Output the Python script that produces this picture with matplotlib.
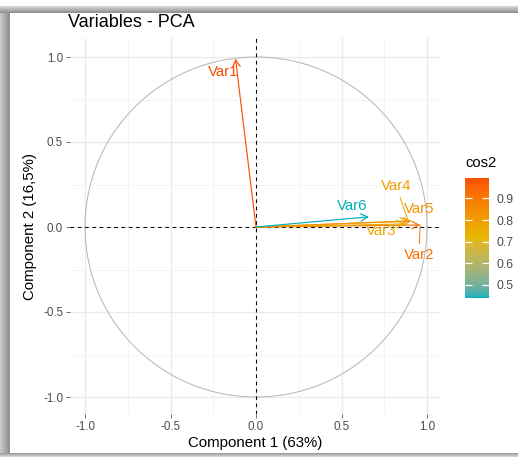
import numpy as np
import matplotlib
matplotlib.use("Agg")
import matplotlib.pyplot as plt
from matplotlib.colors import ListedColormap, Normalize, to_rgb
from matplotlib.cm import ScalarMappable

plt.rcParams["font.family"] = ["Liberation Sans", "DejaVu Sans"]

# PCA variable coordinates (loadings on the first two components)
variables = ["Var1", "Var2", "Var3", "Var4", "Var5", "Var6"]
dim1 = [-0.12, 0.96, 0.87, 0.89, 0.91, 0.66]
dim2 = [0.99, 0.012, 0.018, 0.035, 0.035, 0.06]

# label placement (repelled text positions)
label_x = [-0.19, 0.953, 0.73, 0.82, 0.953, 0.56]
label_y = [0.91, -0.165, -0.025, 0.24, 0.105, 0.125]
label_segment = [False, True, True, True, False, False]

x_ticks = [-1.0, -0.5, 0.0, 0.5, 1.0]
y_ticks = [-1.0, -0.5, 0.0, 0.5, 1.0]
cbar_ticks = [0.5, 0.6, 0.7, 0.8, 0.9]

title = "Variables - PCA"
x_label = "Component 1 (63%)"
y_label = "Component 2 (16,5%)"
legend_title = "cos2"

gradient_cols = ["#00AFBB", "#E7B800", "#FC4E07"]


# --- colour gradient interpolated in CIE Lab space ---
def _srgb_to_lab(rgb):
    rgb = np.asarray(rgb, float)
    lin = np.where(rgb <= 0.04045, rgb / 12.92, ((rgb + 0.055) / 1.055) ** 2.4)
    m = np.array([[0.4124564, 0.3575761, 0.1804375],
                  [0.2126729, 0.7151522, 0.0721750],
                  [0.0193339, 0.1191920, 0.9503041]])
    xyz = lin @ m.T
    white = np.array([0.95047, 1.0, 1.08883])
    t = xyz / white
    f = np.where(t > (6 / 29) ** 3, np.cbrt(t), t / (3 * (6 / 29) ** 2) + 4 / 29)
    L = 116 * f[..., 1] - 16
    a = 500 * (f[..., 0] - f[..., 1])
    b = 200 * (f[..., 1] - f[..., 2])
    return np.stack([L, a, b], axis=-1)


def _lab_to_srgb(lab):
    lab = np.asarray(lab, float)
    fy = (lab[..., 0] + 16) / 116
    fx = fy + lab[..., 1] / 500
    fz = fy - lab[..., 2] / 200
    f = np.stack([fx, fy, fz], axis=-1)
    t = np.where(f > 6 / 29, f ** 3, 3 * (6 / 29) ** 2 * (f - 4 / 29))
    xyz = t * np.array([0.95047, 1.0, 1.08883])
    minv = np.array([[3.2404542, -1.5371385, -0.4985314],
                     [-0.9692660, 1.8760108, 0.0415560],
                     [0.0556434, -0.2040259, 1.0572252]])
    lin = xyz @ minv.T
    lin = np.clip(lin, 0, 1)
    rgb = np.where(lin <= 0.0031308, 12.92 * lin,
                   1.055 * lin ** (1 / 2.4) - 0.055)
    return np.clip(rgb, 0, 1)


def lab_gradient(colours, n=256):
    labs = _srgb_to_lab([to_rgb(c) for c in colours])
    pos = np.linspace(0, 1, len(colours))
    s = np.linspace(0, 1, n)
    out = np.stack([np.interp(s, pos, labs[:, k]) for k in range(3)], axis=-1)
    return ListedColormap(_lab_to_srgb(out))


W, H, DPI = 518, 457, 100
fig = plt.figure(figsize=(W / DPI, H / DPI), dpi=DPI)
fig.patch.set_facecolor("white")

# ---- framing shadow around the whole figure ----
bg = fig.add_axes([0, 0, 1, 1], zorder=-10)
bg.axis("off")
left_grad = np.linspace(0.80, 0.55, 50).reshape(1, -1)
bg.imshow(left_grad, cmap="gray", vmin=0, vmax=1, extent=(0, 10, H, 6),
          aspect="auto", interpolation="bilinear")
top_grad = np.linspace(0.85, 0.55, 50).reshape(-1, 1)
bg.imshow(top_grad, cmap="gray", vmin=0, vmax=1, extent=(0, W, 13, 6),
          aspect="auto", interpolation="bilinear")
bot_grad = np.linspace(0.6, 0.85, 20).reshape(-1, 1)
bg.imshow(bot_grad, cmap="gray", vmin=0, vmax=1, extent=(0, W, H, 453),
          aspect="auto", interpolation="bilinear")
bg.set_xlim(0, W)
bg.set_ylim(H, 0)

# ---- main panel ----
px_left, px_right, px_top, px_bottom = 70, 441, 38, 414
ax = fig.add_axes([px_left / W, (H - px_bottom) / H,
                   (px_right - px_left) / W, (px_bottom - px_top) / H])
x0_px, x_scale = 256, 171.0
y0_px, y_scale = 227, 170.0
ax.set_xlim((px_left - x0_px) / x_scale, (px_right - x0_px) / x_scale)
ax.set_ylim((y0_px - px_bottom) / y_scale, (y0_px - px_top) / y_scale)

for s in ax.spines.values():
    s.set_visible(False)

ax.set_xticks(x_ticks)
ax.set_yticks(y_ticks)
ax.set_xticklabels([f"{v:.1f}" for v in x_ticks])
ax.set_yticklabels([f"{v:.1f}" for v in y_ticks])
ax.set_xticks([-0.75, -0.25, 0.25, 0.75], minor=True)
ax.set_yticks([-0.75, -0.25, 0.25, 0.75], minor=True)
ax.tick_params(which="major", length=3, width=0.6, color="#555555",
               labelsize=8.4, labelcolor="#4D4D4D", pad=2)
ax.tick_params(which="minor", length=0)
ax.grid(which="major", color="#EBEBEB", lw=1.0)
ax.grid(which="minor", color="#F2F2F2", lw=0.6)
ax.set_axisbelow(True)

# correlation circle
theta = np.linspace(0, 2 * np.pi, 400)
ax.plot(np.cos(theta), np.sin(theta), color="#B3B3B3", lw=0.7, zorder=2)

# reference axes
ax.axhline(0, color="black", lw=0.75, ls=(0, (3.5, 3.5)), zorder=2)
ax.axvline(0, color="black", lw=0.75, ls=(0, (3.5, 3.5)), zorder=2)

cos2 = np.array(dim1) ** 2 + np.array(dim2) ** 2
cmap = lab_gradient(gradient_cols)
norm = Normalize(vmin=cos2.min(), vmax=cos2.max())

for name, x, y, lx, ly, seg, c2 in zip(variables, dim1, dim2, label_x,
                                        label_y, label_segment, cos2):
    col = cmap(norm(c2))
    ax.annotate("", xy=(x, y), xytext=(0, 0),
                arrowprops=dict(arrowstyle="->,head_length=0.5,head_width=0.27",
                                color=col, lw=0.85, shrinkA=0, shrinkB=0),
                zorder=3)
    if seg:
        ax.annotate(name, xy=(x, y), xytext=(lx, ly), color=col,
                    fontsize=10.8, ha="center", va="center", zorder=4,
                    arrowprops=dict(arrowstyle="-", color=col, lw=0.7,
                                    shrinkA=1, shrinkB=0))
    else:
        ax.text(lx, ly, name, color=col, fontsize=10.8, ha="center",
                va="center", zorder=4)

ax.set_xlabel(x_label, fontsize=10.8, color="black", labelpad=2)
ax.set_ylabel(y_label, fontsize=10.8, color="black", labelpad=4)

fig.text(68 / W, 1 - 22.5 / H, title, fontsize=13, ha="left", va="center",
         color="black")

# ---- colour legend ----
cb_left, cb_right, cb_top, cb_bottom = 465, 489, 178, 298
cax = fig.add_axes([cb_left / W, (H - cb_bottom) / H,
                    (cb_right - cb_left) / W, (cb_bottom - cb_top) / H])
sm = ScalarMappable(norm=norm, cmap=cmap)
cb = fig.colorbar(sm, cax=cax, ticks=cbar_ticks)
cb.outline.set_visible(False)
cax.tick_params(direction="in", color="white", length=5, width=0.9,
                left=True, right=True, labelsize=8.8, labelcolor="#4D4D4D",
                pad=5.5)
cax.set_yticklabels([f"{t:.1f}" for t in cbar_ticks])
fig.text(cb_left / W, 1 - 163 / H, legend_title, fontsize=10.6,
         ha="left", va="center", color="black")

fig.savefig("out.png", dpi=DPI, facecolor="white")
